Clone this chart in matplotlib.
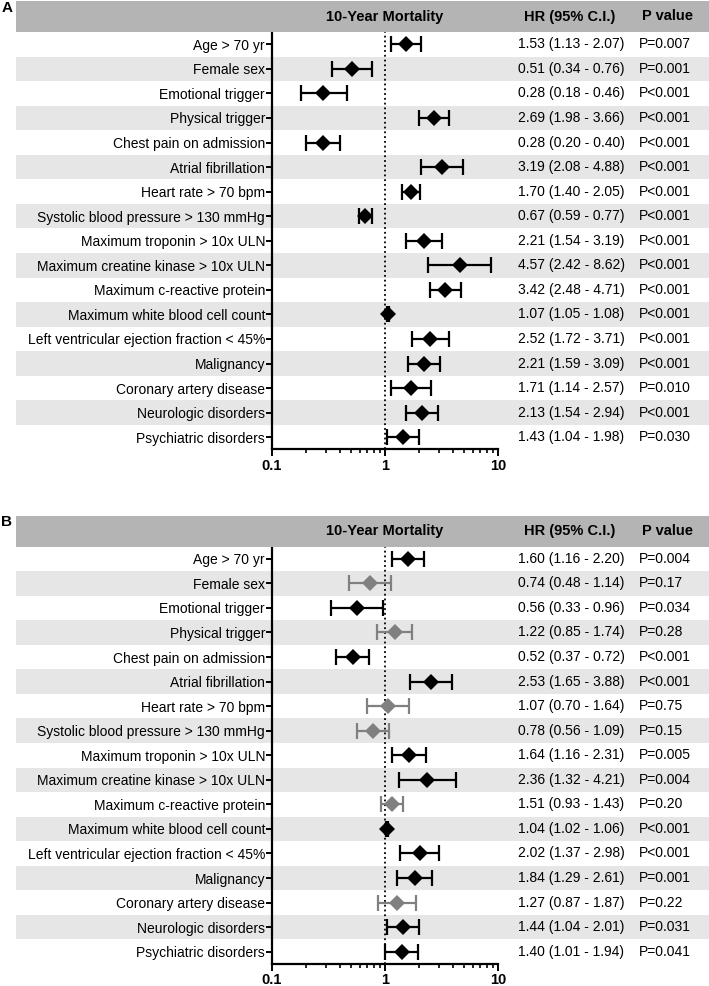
import matplotlib
matplotlib.use("Agg")
import matplotlib.pyplot as plt
import matplotlib.ticker as mticker
from matplotlib.patches import Rectangle
from matplotlib.transforms import blended_transform_factory
import numpy as np

plt.rcParams['font.family'] = ['Liberation Sans', 'DejaVu Sans']

W, H = 709, 986

labels = ["Age > 70 yr", "Female sex", "Emotional trigger", "Physical trigger",
          "Chest pain on admission", "Atrial fibrillation", "Heart rate > 70 bpm",
          "Systolic blood pressure > 130 mmHg", "Maximum troponin > 10x ULN",
          "Maximum creatine kinase > 10x ULN", "Maximum c-reactive protein",
          "Maximum white blood cell count", "Left ventricular ejection fraction < 45%",
          "Malignancy", "Coronary artery disease", "Neurologic disorders",
          "Psychiatric disorders"]

# panel A (univariable)
hr_a = [1.53, 0.51, 0.28, 2.69, 0.28, 3.19, 1.70, 0.67, 2.21, 4.57, 3.42, 1.07, 2.52, 2.21, 1.71, 2.13, 1.43]
lo_a = [1.13, 0.34, 0.18, 1.98, 0.20, 2.08, 1.40, 0.59, 1.54, 2.42, 2.48, 1.05, 1.72, 1.59, 1.14, 1.54, 1.04]
hi_a = [2.07, 0.76, 0.46, 3.66, 0.40, 4.88, 2.05, 0.77, 3.19, 8.62, 4.71, 1.08, 3.71, 3.09, 2.57, 2.94, 1.98]
p_a = ["P=0.007", "P=0.001", "P<0.001", "P<0.001", "P<0.001", "P<0.001", "P<0.001",
       "P<0.001", "P<0.001", "P<0.001", "P<0.001", "P<0.001", "P<0.001", "P<0.001",
       "P=0.010", "P<0.001", "P=0.030"]
sig_a = [True] * 17

# panel B (multivariable) - plotted CRP point sits at ~1.15 in the figure
hr_b = [1.60, 0.74, 0.56, 1.22, 0.52, 2.53, 1.07, 0.78, 1.64, 2.36, 1.15, 1.04, 2.02, 1.84, 1.27, 1.44, 1.40]
lo_b = [1.16, 0.48, 0.33, 0.85, 0.37, 1.65, 0.70, 0.56, 1.16, 1.32, 0.93, 1.02, 1.37, 1.29, 0.87, 1.04, 1.01]
hi_b = [2.20, 1.14, 0.96, 1.74, 0.72, 3.88, 1.64, 1.09, 2.31, 4.21, 1.43, 1.06, 2.98, 2.61, 1.87, 2.01, 1.94]
hrtxt_b = ["1.60 (1.16 - 2.20)", "0.74 (0.48 - 1.14)", "0.56 (0.33 - 0.96)", "1.22 (0.85 - 1.74)",
           "0.52 (0.37 - 0.72)", "2.53 (1.65 - 3.88)", "1.07 (0.70 - 1.64)", "0.78 (0.56 - 1.09)",
           "1.64 (1.16 - 2.31)", "2.36 (1.32 - 4.21)", "1.51 (0.93 - 1.43)", "1.04 (1.02 - 1.06)",
           "2.02 (1.37 - 2.98)", "1.84 (1.29 - 2.61)", "1.27 (0.87 - 1.87)", "1.44 (1.04 - 2.01)",
           "1.40 (1.01 - 1.94)"]
p_b = ["P=0.004", "P=0.17", "P=0.034", "P=0.28", "P<0.001", "P<0.001", "P=0.75", "P=0.15",
       "P=0.005", "P=0.004", "P=0.20", "P<0.001", "P<0.001", "P=0.001", "P=0.22", "P=0.031",
       "P=0.041"]
sig_b = [True, False, True, False, True, True, False, False, True, True, False, True,
         True, True, False, True, True]

hrtxt_a = ["%.2f (%.2f - %.2f)" % (h, l, u) for h, l, u in zip(hr_a, lo_a, hi_a)]

fig = plt.figure(figsize=(W / 100, H / 100), dpi=100)
fig.patch.set_facecolor("white")


def px(x):
    return x / W


def py(y):
    return 1 - y / H


def panel(top, letter, hr, lo, hi, hrtxt, ptxt, sig):
    # header bar
    fig.patches.append(Rectangle((px(16), py(top + 31)), 1 - px(16), 31 / H,
                                 transform=fig.transFigure, facecolor="#b4b4b4",
                                 edgecolor="none", zorder=0))
    yc = py(top + 15.5)
    fig.text(px(7), py(top + 7), letter, fontsize=11, fontweight="bold", ha="center", va="center")
    fig.text(px(385), yc, "10-Year Mortality", fontsize=10.5, fontweight="bold", ha="center", va="center")
    fig.text(px(524), yc, "HR (95% C.I.)", fontsize=10.5, fontweight="bold", ha="left", va="center")
    fig.text(px(642), yc, "P value", fontsize=10.5, fontweight="bold", ha="left", va="center")

    ax_top = top + 31
    ax_bot = ax_top + 417.5
    ax = fig.add_axes([px(272), py(ax_bot), px(498) - px(272), (ax_bot - ax_top) / H])
    ax.set_facecolor("none")
    n = len(labels)
    y = np.arange(n)
    ax.set_xscale("log")
    ax.set_xlim(0.1, 10)
    ax.set_ylim(n - 0.5, -0.5)

    tr = blended_transform_factory(fig.transFigure, ax.transData)
    for i in range(n):
        if i % 2 == 1:
            ax.add_patch(Rectangle((px(16), i - 0.5), 1 - px(16), 1, transform=tr,
                                   facecolor="#e6e6e6", edgecolor="none", zorder=0, clip_on=False))
        ax.text(px(518), i, hrtxt[i], transform=tr, fontsize=10, va="center", ha="left")
        ax.text(px(639), i, ptxt[i], transform=tr, fontsize=10, va="center", ha="left")

    ax.axvline(1, color="black", ls=":", lw=1.3, zorder=1)

    for i in range(n):
        c = "black" if sig[i] else "#808080"
        ax.errorbar(hr[i], y[i], xerr=[[hr[i] - lo[i]], [hi[i] - hr[i]]], fmt="none",
                    ecolor=c, elinewidth=1.6, capsize=6, capthick=1.6, zorder=3)
        ax.plot(hr[i], y[i], "D", color=c, ms=8, mew=0, zorder=4)

    ax.set_yticks(y)
    ax.set_yticklabels(labels, fontsize=10)
    ax.tick_params(axis="y", length=4, width=1.4, pad=1)
    ax.xaxis.set_major_locator(mticker.FixedLocator([0.1, 1, 10]))
    ax.xaxis.set_major_formatter(mticker.FixedFormatter(["0.1", "1", "10"]))
    ax.xaxis.set_minor_locator(mticker.LogLocator(base=10, subs=np.arange(2, 10)))
    ax.xaxis.set_minor_formatter(mticker.NullFormatter())
    ax.tick_params(axis="x", which="major", length=5, width=1.4, pad=1.5, labelsize=10.5)
    ax.tick_params(axis="x", which="minor", length=3, width=1.2)
    for t in ax.get_xticklabels():
        t.set_fontweight("bold")
    for s in ["top", "right"]:
        ax.spines[s].set_visible(False)
    for s in ["left", "bottom"]:
        ax.spines[s].set_linewidth(1.6)
    return ax


panel(1, "A", hr_a, lo_a, hi_a, hrtxt_a, p_a, sig_a)
panel(515.5, "B", hr_b, lo_b, hi_b, hrtxt_b, p_b, sig_b)

fig.savefig("out.png", dpi=100)
